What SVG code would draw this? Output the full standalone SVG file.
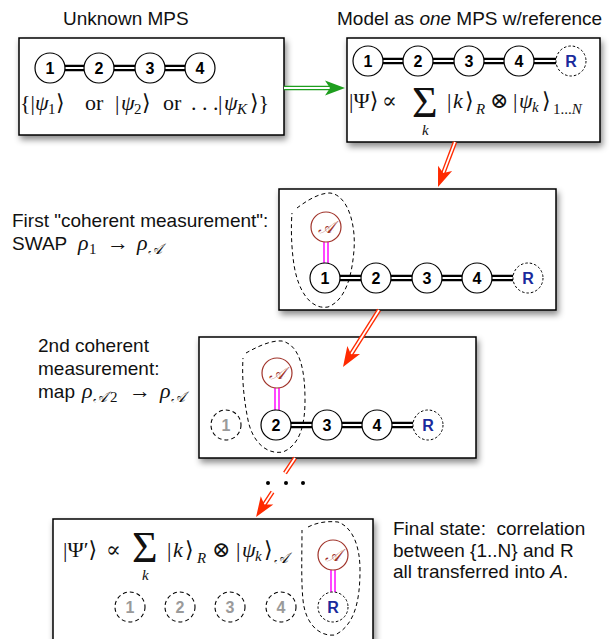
<svg xmlns="http://www.w3.org/2000/svg" width="610" height="639" viewBox="0 0 610 639">
<defs>
<filter id="sh" x="-10%" y="-10%" width="125%" height="130%">
<feDropShadow dx="2" dy="4" stdDeviation="3" flood-color="#000" flood-opacity="0.45"/>
</filter>
<marker id="hr" viewBox="-6 -8 22 16" markerWidth="22" markerHeight="16" refX="0" refY="0" orient="auto" markerUnits="userSpaceOnUse" overflow="visible">
<path d="M0,0 L-5,-7.5 L15,0 L-5,7.5 Z" fill="#ff2a00"/>
</marker>
<marker id="hg" viewBox="-6 -8 22 16" markerWidth="22" markerHeight="16" refX="0" refY="0" orient="auto" markerUnits="userSpaceOnUse" overflow="visible">
<path d="M0,0 L-5,-7.5 L15,0 L-5,7.5 Z" fill="#1e9e1e"/>
</marker>
</defs>
<style>
.box{fill:#fff;stroke:#000;stroke-width:1.5;filter:url(#sh)}
.n{fill:#fff;stroke:#000;stroke-width:1.2}
.nt{font-family:"Liberation Sans",Arial,sans-serif;font-weight:bold;font-size:16px;text-anchor:middle;fill:#000}
.r{fill:#fff;stroke:#000;stroke-width:1;stroke-dasharray:2.5,2}
.rt{fill:#1a2a9c}
.g{fill:#fff;stroke:#000;stroke-width:1.1;stroke-dasharray:4,3}
.gt{fill:#9a9a9a}
.a{fill:#fff;stroke:#a0332a;stroke-width:1.2}
.at{font-family:"DejaVu Serif","Liberation Serif",serif;font-size:17px;font-style:italic;fill:#a0332a;text-anchor:middle}
.bo{fill:none;stroke:#000;stroke-width:6.5}
.bi{fill:none;stroke:#fff;stroke-width:2.2}
.mg{fill:none;stroke:#ff33ff;stroke-width:1.8}
.lab{font-family:"Liberation Sans",Arial,sans-serif;font-size:19px;fill:#111}
.m{font-family:"Liberation Serif","DejaVu Serif",serif;font-size:22px;fill:#111}
.s{font-size:15px}
.i{font-style:italic}
.sig{font-size:44px}
.blob{fill:none;stroke:#000;stroke-width:1;stroke-dasharray:4,3}
.ro{fill:none;stroke:#ff2a00;stroke-width:4.5}
.go{fill:none;stroke:#1e9e1e;stroke-width:4.5}
.wi{fill:none;stroke:#fff;stroke-width:1.8}
</style>

<!-- labels -->
<g id="labels">
<text class="lab" x="63" y="25">Unknown MPS</text>
<text class="lab" x="337" y="25">Model as <tspan font-style="italic">one</tspan> MPS w/reference</text>
<text class="lab" x="12" y="227">First "coherent measurement":</text>
<text class="lab" x="12" y="250">SWAP</text>
<text class="m" y="250"><tspan class="i" x="78">ρ</tspan><tspan class="s" x="89" dy="4">1</tspan><tspan x="107" dy="-4">→</tspan><tspan class="i" x="137">ρ</tspan><tspan class="s i" x="148" dy="4">𝒜</tspan></text>
<text class="lab" x="38" y="352">2nd coherent</text>
<text class="lab" x="38" y="375">measurement:</text>
<text class="lab" x="38" y="398">map</text>
<text class="m" y="398"><tspan class="i" x="82">ρ</tspan><tspan class="s i" x="93" dy="4">𝒜</tspan><tspan class="s" x="110">2</tspan><tspan x="129" dy="-4">→</tspan><tspan class="i" x="160">ρ</tspan><tspan class="s i" x="171" dy="4">𝒜</tspan></text>
<text class="lab" x="393" y="535">Final state:&#160; correlation</text>
<text class="lab" x="393" y="557">between {1..N} and R</text>
<text class="lab" x="393" y="578">all transferred into <tspan font-style="italic">A</tspan>.</text>
</g>

<!-- box 1 -->
<g id="box1">
<rect class="box" x="19" y="38" width="265" height="97"/>
<path class="bo" d="M65,68H84M114,68H135M165,68H185"/>
<path class="bi" d="M63,68H86M112,68H137M163,68H187"/>
<circle class="n" cx="50" cy="68" r="15"/><text class="nt" x="50" y="74">1</text>
<circle class="n" cx="99" cy="68" r="15"/><text class="nt" x="99" y="74">2</text>
<circle class="n" cx="150" cy="68" r="15"/><text class="nt" x="150" y="74">3</text>
<circle class="n" cx="200" cy="68" r="15"/><text class="nt" x="200" y="74">4</text>
<text class="m" y="110"><tspan x="20">{|</tspan><tspan class="i" x="35">ψ</tspan><tspan class="s" x="48" dy="4">1</tspan><tspan x="56" dy="-4">⟩</tspan><tspan x="85">or</tspan><tspan x="115">|</tspan><tspan class="i" x="121">ψ</tspan><tspan class="s" x="134" dy="4">2</tspan><tspan x="142" dy="-4">⟩</tspan><tspan x="163">or</tspan><tspan x="191">. . .</tspan><tspan x="218">|</tspan><tspan class="i" x="224">ψ</tspan><tspan class="s i" x="237" dy="4">K</tspan><tspan x="250" dy="-4">⟩}</tspan></text>
</g>

<!-- box 2 -->
<g id="box2">
<rect class="box" x="347" y="38" width="253" height="104"/>
<path class="bo" d="M383,61H403M433,61H454M484,61H504M534,61H556"/>
<path class="bi" d="M381,61H405M431,61H456M482,61H506M532,61H558"/>
<circle class="n" cx="368" cy="61" r="15"/><text class="nt" x="368" y="67">1</text>
<circle class="n" cx="418" cy="61" r="15"/><text class="nt" x="418" y="67">2</text>
<circle class="n" cx="469" cy="61" r="15"/><text class="nt" x="469" y="67">3</text>
<circle class="n" cx="519" cy="61" r="15"/><text class="nt" x="519" y="67">4</text>
<circle class="r" cx="571" cy="61" r="15"/><text class="nt rt" x="571" y="67">R</text>
<text class="m" y="108"><tspan x="349">|Ψ⟩</tspan><tspan x="382">∝</tspan><tspan class="sig" x="412" dy="9">Σ</tspan><tspan class="s i" x="422" dy="18">k</tspan><tspan x="447" dy="-27">|</tspan><tspan class="i" x="453">k</tspan><tspan x="465">⟩</tspan><tspan class="s i" x="476" dy="6">R</tspan><tspan x="490" dy="-6">⊗</tspan><tspan x="513">|</tspan><tspan class="i" x="519">ψ</tspan><tspan class="s i" x="532" dy="4">k</tspan><tspan x="542" dy="-4">⟩</tspan><tspan class="s" x="553" dy="6">1<tspan class="s">...</tspan><tspan class="i">N</tspan></tspan></text>
</g>

<!-- box 3 -->
<g id="box3">
<rect class="box" x="279" y="189" width="277" height="121"/>
<path class="bo" d="M340,278H361M391,278H412M442,278H462M492,278H513"/>
<path class="bi" d="M338,278H363M389,278H414M440,278H464M490,278H515"/>
<path class="mg" d="M324,242V263M328,242V263"/>
<path class="blob" d="M297,208 C305,202 318,193 330,193 C348,195 356,225 354,250 C352,275 346,300 328,307 C310,310 298,290 294,265 C291,245 291,225 292,213"/>
<circle class="a" cx="326" cy="227" r="15"/><text class="at" x="326" y="233">𝒜</text>
<circle class="n" cx="325" cy="278" r="15"/><text class="nt" x="325" y="284">1</text>
<circle class="n" cx="376" cy="278" r="15"/><text class="nt" x="376" y="284">2</text>
<circle class="n" cx="427" cy="278" r="15"/><text class="nt" x="427" y="284">3</text>
<circle class="n" cx="477" cy="278" r="15"/><text class="nt" x="477" y="284">4</text>
<circle class="r" cx="528" cy="278" r="15"/><text class="nt rt" x="528" y="284">R</text>
</g>

<!-- box 4 -->
<g id="box4">
<rect class="box" x="199" y="337" width="277" height="121"/>
<path class="bo" d="M291,425H312M342,425H362M392,425H413"/>
<path class="bi" d="M289,425H314M340,425H364M390,425H415"/>
<path class="mg" d="M275,388V410M279,388V410"/>
<path class="blob" d="M246,353 C255,348 270,340 282,341 C300,345 305,370 305,400 C305,425 300,445 283,452 C265,455 252,440 248,420 C243,395 242,375 243,358"/>
<circle class="g" cx="226" cy="425" r="15"/><text class="nt gt" x="226" y="431">1</text>
<circle class="a" cx="277" cy="373" r="15"/><text class="at" x="277" y="379">𝒜</text>
<circle class="n" cx="276" cy="425" r="15"/><text class="nt" x="276" y="431">2</text>
<circle class="n" cx="327" cy="425" r="15"/><text class="nt" x="327" y="431">3</text>
<circle class="n" cx="377" cy="425" r="15"/><text class="nt" x="377" y="431">4</text>
<circle class="r" cx="428" cy="425" r="15"/><text class="nt rt" x="428" y="431">R</text>
</g>

<!-- box 5 -->
<g id="box5">
<rect class="box" x="53" y="519" width="320" height="140"/>
<text class="m" y="557"><tspan x="63">|Ψ′⟩</tspan><tspan x="106">∝</tspan><tspan class="sig" x="132" dy="5">Σ</tspan><tspan class="s i" x="142" dy="18">k</tspan><tspan x="167" dy="-23">|</tspan><tspan class="i" x="173">k</tspan><tspan x="185">⟩</tspan><tspan class="s i" x="197" dy="6">R</tspan><tspan x="212" dy="-6">⊗</tspan><tspan x="236">|</tspan><tspan class="i" x="242">ψ</tspan><tspan class="s i" x="255" dy="4">k</tspan><tspan x="264" dy="-4">⟩</tspan><tspan class="s i" x="274" dy="6">𝒜</tspan></text>
<path class="mg" d="M331,570V592M335,570V592"/>
<path class="blob" d="M308,527 C318,522 328,521 338,522 C352,527 360,545 360,570 C360,600 355,625 335,635 C318,637 305,622 303,600 C301,580 302,555 302,530"/>
<circle class="g" cx="130" cy="607" r="15"/><text class="nt gt" x="130" y="613">1</text>
<circle class="g" cx="180" cy="607" r="15"/><text class="nt gt" x="180" y="613">2</text>
<circle class="g" cx="230" cy="607" r="15"/><text class="nt gt" x="230" y="613">3</text>
<circle class="g" cx="281" cy="607" r="15"/><text class="nt gt" x="281" y="613">4</text>
<circle class="a" cx="333" cy="555" r="15"/><text class="at" x="333" y="561">𝒜</text>
<circle class="r" cx="333" cy="607" r="15"/><text class="nt rt" x="333" y="613">R</text>
</g>

<!-- connectors -->
<g id="connectors">
<path class="go" d="M284,88H330"/>
<path class="wi" d="M284,88H330" marker-end="url(#hg)"/>
<path class="ro" d="M455,142L443.3,173"/>
<path class="wi" d="M455,142L443.3,173" marker-end="url(#hr)"/>
<path class="ro" d="M379,310L351,354.3"/>
<path class="wi" d="M379,310L351,354.3" marker-end="url(#hr)"/>
<path class="ro" d="M295,458L285,473M272.5,492L264.3,504.5"/>
<path class="wi" d="M295,458L285,473"/>
<path class="wi" d="M272.5,492L264.3,504.5" marker-end="url(#hr)"/>
<circle cx="268" cy="483" r="2" fill="#000"/>
<circle cx="286" cy="483" r="2" fill="#000"/>
<circle cx="303" cy="483" r="2" fill="#000"/>
</g>
</svg>
